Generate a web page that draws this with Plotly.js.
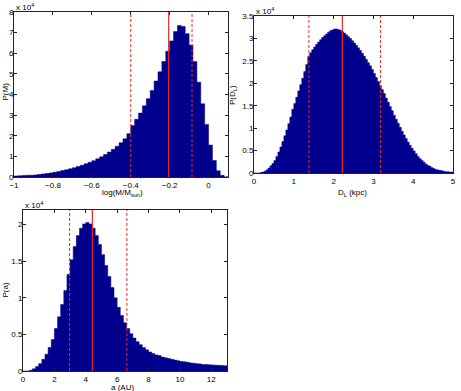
<!DOCTYPE html>
<html><head><meta charset="utf-8">
<script src="https://cdn.plot.ly/plotly-3.0.1.min.js"></script>
<style>html,body{margin:0;padding:0;background:#fff}#chart{width:461px;height:391px}</style>
</head><body><div id="chart"></div>
<script>
// ---- Panel 1: log(M/Msun), bin width 0.02, values in units of 1e4 ----
const massBinStart = -1.0, massBinWidth = 0.02;
const massCounts = [0.05,0.06,0.07,0.08,0.09,0.10,0.12,0.15,0.17,0.20,
  0.23,0.27,0.31,0.35,0.40,0.45,0.51,0.57,0.64,0.71,
  0.79,0.88,0.98,1.09,1.21,1.34,1.49,1.66,1.85,2.10,
  2.50,2.80,3.10,3.45,3.80,4.20,4.65,5.10,5.60,6.10,
  6.60,7.05,7.35,7.30,6.95,6.40,5.60,4.60,3.55,2.55,
  1.55,0.80,0.30,0.08,0.01];
const massLines = {median: -0.205, lower: -0.40, upper: -0.085};

// ---- Panel 2: D_L (kpc), bin width 0.05 ----
const distBinStart = 0.0, distBinWidth = 0.05;
const distCounts = [0.00,0.00,0.00,0.01,0.02,0.04,0.07,0.11,0.16,0.21,
  0.28,0.37,0.47,0.58,0.70,0.83,0.96,1.10,1.25,1.42,
  1.55,1.69,1.83,1.97,2.11,2.26,2.42,2.60,2.68,2.75,
  2.81,2.87,2.92,2.97,3.02,3.06,3.10,3.14,3.17,3.19,
  3.21,3.21,3.20,3.18,3.15,3.12,3.08,3.04,3.00,2.95,
  2.90,2.85,2.79,2.73,2.67,2.60,2.53,2.46,2.39,2.31,
  2.22,2.13,2.04,1.95,1.86,1.77,1.67,1.58,1.48,1.39,
  1.29,1.20,1.11,1.02,0.93,0.85,0.77,0.69,0.62,0.55,
  0.49,0.43,0.37,0.32,0.28,0.24,0.20,0.17,0.15,0.12,
  0.10,0.08,0.07,0.06,0.05,0.04,0.03,0.03,0.02,0.02];
const distLines = {median: 2.22, lower: 1.38, upper: 3.18};

// ---- Panel 3: a (AU), bin width 0.2 ----
const sepBinStart = 0.0, sepBinWidth = 0.2;
const sepCounts = [0.00,0.00,0.01,0.03,0.06,0.10,0.16,0.23,0.32,0.43,
  0.58,0.74,0.91,1.10,1.32,1.52,1.70,1.85,1.95,2.01,
  2.03,2.01,1.95,1.85,1.73,1.59,1.44,1.29,1.14,1.00,
  0.87,0.76,0.66,0.58,0.51,0.45,0.40,0.36,0.32,0.29,
  0.26,0.24,0.22,0.21,0.19,0.18,0.17,0.16,0.15,0.14,
  0.13,0.125,0.12,0.11,0.105,0.10,0.095,0.09,0.088,0.085,
  0.082,0.080,0.077,0.075,0.072];
const sepLines = {median: 4.42, lower: 2.97, upper: 6.62};

const barColor = 'rgb(0,0,140)';
const lineColor = 'rgb(235,40,40)';
const font = {family: 'Liberation Sans, Arial, sans-serif', size: 8, color: '#000'};

// Histogram drawn as a filled step outline over the bin edges
function histTrace(start, w, vals, xa, ya){
  const x = [], y = [];
  for (let i = 0; i < vals.length; i++){ x.push(start + w*i); y.push(vals[i]); }
  x.push(start + w*vals.length); y.push(vals[vals.length-1]);
  return {type:'scatter', mode:'lines', x: x, y: y, xaxis: xa, yaxis: ya,
    line:{shape:'hv', color: barColor, width:0.5}, fill:'tozeroy', fillcolor: barColor, hoverinfo:'skip'};
}

const data = [
  histTrace(massBinStart, massBinWidth, massCounts, 'x', 'y'),
  histTrace(distBinStart, distBinWidth, distCounts, 'x2', 'y2'),
  histTrace(sepBinStart, sepBinWidth, sepCounts, 'x3', 'y3')
];

function vlines(lines, xref, yref){
  const dom = yref + ' domain';
  return [
    {type:'line', xref: xref, yref: dom, x0: lines.lower, x1: lines.lower, y0:0, y1:1, line:{color: lineColor, width:1, dash:'3px,2px'}},
    {type:'line', xref: xref, yref: dom, x0: lines.upper, x1: lines.upper, y0:0, y1:1, line:{color: lineColor, width:1, dash:'3px,2px'}},
    {type:'line', xref: xref, yref: dom, x0: lines.median, x1: lines.median, y0:0, y1:1, line:{color: lineColor, width:1.2}}
  ];
}

function axis(extra){
  return Object.assign({showline:true, mirror:'ticks', linecolor:'#222', linewidth:1,
    ticks:'inside', ticklen:3, tickcolor:'#222', showgrid:false, zeroline:false,
    tickfont: font, fixedrange:true}, extra);
}
const xs = {ticklabelstandoff: 0};
const ys = {ticklabelstandoff: -2};

function label(text, x, y, rot){
  return {xref:'paper', yref:'paper', x: x/461, y: 1 - y/391, xanchor:'center', yanchor:'middle',
    showarrow:false, text: text, font: font, textangle: rot || 0};
}

const layout = {
  width: 461, height: 391, margin:{l:0,r:0,t:0,b:0}, showlegend:false,
  paper_bgcolor:'#fff', plot_bgcolor:'#fff', font: font,
  xaxis: axis(Object.assign({domain:[0.0304,0.4946], anchor:'y', range:[-1,0.1], dtick:0.2, tick0:0}, xs)),
  yaxis: axis(Object.assign({domain:[0.5473,0.9693], anchor:'x', range:[0,8], dtick:1}, ys)),
  xaxis2: axis(Object.assign({domain:[0.551,0.9826], anchor:'y2', range:[0,5], dtick:1}, xs)),
  yaxis2: axis(Object.assign({domain:[0.5575,0.9591], anchor:'x2', range:[0,3.5], dtick:0.5}, ys)),
  xaxis3: axis(Object.assign({domain:[0.0499,0.4924], anchor:'y3', range:[0,13], dtick:2}, xs)),
  yaxis3: axis(Object.assign({domain:[0.0512,0.4629], anchor:'x3', range:[0,2.2], dtick:0.5}, ys)),
  shapes: [].concat(vlines(massLines,'x','y'), vlines(distLines,'x2','y2'), vlines(sepLines,'x3','y3')),
  annotations: [
    {xref:'x domain', yref:'y domain', x:0, y:1, xanchor:'left', yanchor:'bottom', showarrow:false, text:'x 10<sup>4</sup>', font: font, yshift:-2},
    {xref:'x2 domain', yref:'y2 domain', x:0, y:1, xanchor:'left', yanchor:'bottom', showarrow:false, text:'x 10<sup>4</sup>', font: font, yshift:-2},
    {xref:'x3 domain', yref:'y3 domain', x:0, y:1, xanchor:'left', yanchor:'bottom', showarrow:false, text:'x 10<sup>4</sup>', font: font, yshift:-2},
    label('log(M/M<sub>sun</sub>)', 123, 193),
    label('P(M)', 4.5, 92, -90),
    label('D<sub>L</sub> (kpc)', 352, 193),
    label('P(D<sub>L</sub>)', 233, 95, -90),
    label('a (AU)', 123, 387),
    label('P(a)', 4.5, 290, -90)
  ]
};

Plotly.newPlot('chart', data, layout, {staticPlot:true, displayModeBar:false});
</script></body></html>
